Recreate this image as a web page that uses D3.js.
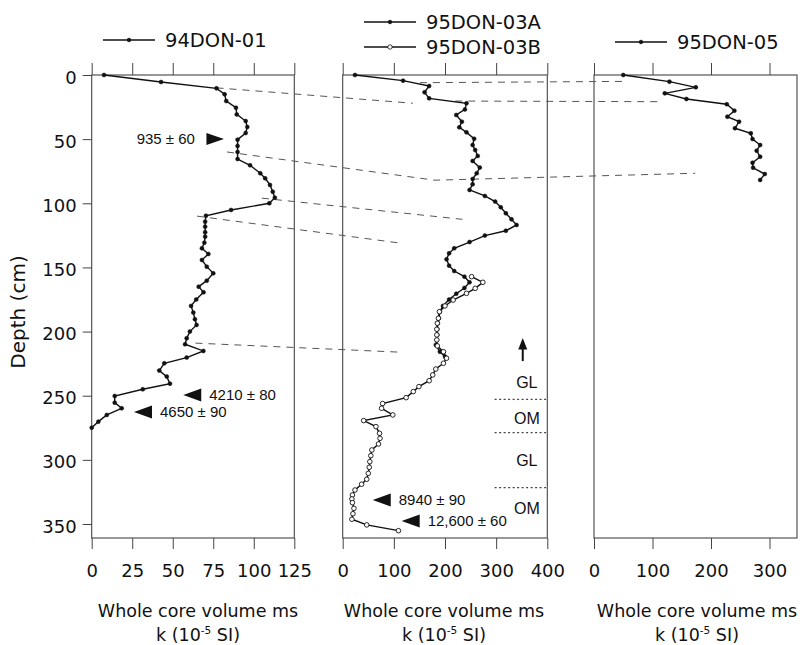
<!DOCTYPE html>
<html>
<head>
<meta charset="utf-8">
<title>Whole core magnetic susceptibility vs depth</title>
<script src="https://cdn.jsdelivr.net/npm/d3@7"></script>
<style>
  body { margin: 0; background: #fff; }
  svg text { font-family: "DejaVu Sans", sans-serif; fill: #111; }
  .note { font-family: "Liberation Sans", Arial, sans-serif; }
  .axis path { display: none; }
  .axis line { stroke: #444; stroke-width: 1; }
</style>
</head>
<body>
<script>
// [depth cm, k 10^-5 SI]
var don01 = [[0,7.6],[5.5,42.8],[10.4,77],[15,82],[20.3,83],[25.5,89],[30.7,89.5],[35.9,95],[40.5,96],[45.2,95],
  [50.4,90],[55.3,90],[60,90],[65.5,90],[70.4,97.7],[76.6,104],[80.5,107],[85.7,110],[91,111.7],[95.6,113],
  [100,109.6],[105.2,86],[109.7,70.5],[114.3,70],[118.2,70],[122.6,70],[126,70],[130.7,69.5],[135.1,68],[139.5,72],
  [144.2,68],[149.4,71],[154.6,75],[160.3,71],[165,66],[169.4,69],[175,64.5],[180,61.3],[185.2,62.7],[190.4,63.7],
  [194.8,64.7],[200,60.6],[205.2,58.6],[209.9,57.6],[215.1,68.9],[220.3,58.6],[224.7,44.8],[230.4,41.7],[235.1,46.3],
  [240.6,48.3],[245,31.5],[250.2,14.2],[255.4,14.2],[259.8,18.5],[265,9.3],[270.2,4.1],[274.9,0]];
var don03A = [[0,24],[4.4,118],[8.6,169],[13.5,160],[18.2,169],[22.1,242],[26.8,239],[31.2,222],[36.4,233],[40.8,228],
  [44.7,242],[49.7,257],[54.6,254],[58.5,259],[63.1,264],[67,254],[72.2,268],[76.6,262],[81.1,254],[85.2,254],
  [89.6,248],[94.3,278],[98.7,298],[103.1,309],[107.8,319],[112.5,330],[116.9,340],[121.4,319],[125.2,278],[130.2,248],
  [135.1,218],[139,208],[143.7,203],[148.6,208],[152.8,218],[157.2,238],[161.6,248],[166,238],[170.5,222],[175,208],
  [180,196],[184.5,190],[189.6,188],[193.5,186],[198.2,185],[202.6,185],[206.5,184],[210.4,182],[215.7,190],[219.6,200]];
var don03B = [[157.2,252],[161.6,274],[166.3,259],[170.2,242],[175.4,216],[180,200],[184.5,189],[189.6,187],[193.5,185],
  [198.2,184],[202.6,184],[206.5,184],[211.2,185],[215.7,197],[220.8,203],[224.7,197],[229.2,182],[233.8,176],[238.3,169],
  [242.9,149],[246.8,138],[251.5,124],[256.1,78],[259.8,76],[265,98],[269.4,41],[274.1,65],[279.3,72],[283.2,73],
  [287.6,70],[292.3,57],[296.7,55],[301.4,53],[305.8,52],[310.5,50],[315.1,47],[319,37],[323.5,24],[327.4,19],
  [330.5,18],[333.4,19],[337.8,22],[342,20],[346.3,18],[350.7,47],[355.2,109]];
var don05 = [[0,50],[5.2,129],[9.6,174],[14.3,121],[18.7,158],[22.8,227],[27.8,240],[32.5,228],[36.4,248],[41.5,241],
  [45.4,268],[49.9,271],[54.6,284],[59,278],[63.7,284],[68.4,271],[72.3,272],[77.2,292],[81.8,284]];

var depthTicks = [0,50,100,150,200,250,300,350];
var kTicks = [[0,25,50,75,100,125],[0,100,200,300,400],[0,100,200,300]];
var kMax = [125,400,347];

// correlation tie lines: [panel, k, depth]
var ties = [
  [[0,77,10],[1,137,22]],
  [[1,151,6],[2,48,5]],
  [[1,220,20.3],[2,108,20.8]],
  [[0,83.5,60],[1,180,82],[2,173,76.6]],
  [[0,105,96],[1,234,112.5]],
  [[0,65,110],[1,112,131]],
  [[0,64,209],[1,109,216]]
];

// radiocarbon dates: arrow tip position
var dates = [
  {p:0, k:81.6, depth:49.9, label:"935 ± 60", side:"left"},
  {p:0, k:56.5, depth:249.4, label:"4210 ± 80", side:"right"},
  {p:0, k:26.1, depth:262.7, label:"4650 ± 90", side:"right"},
  {p:1, k:58.7, depth:331.3, label:"8940 ± 90", side:"right"},
  {p:1, k:115.3, depth:347.6, label:"12,600 ± 60", side:"right"}
];

var unitLabels = ["GL","OM","GL","OM"];
var unitDepths = [239.8,267.6,300.6,337.7];
var unitBounds = [252.8,278.8,321.7];

var width = 803, height = 645,
    plotTop = 75, plotBottom = 538,
    lefts = [91.7,342.7,594], rights = [294.3,547.3,797],
    titleX = [198,444,697];

var svg = d3.select("body").append("svg")
    .attr("width", width).attr("height", height);

var y = d3.scaleLinear().domain([0,350]).range([plotTop,524]);
var xs = kMax.map(function(m,i){
  return d3.scaleLinear().domain([0,m]).range([lefts[i], rights[i]]);
});

// frames and axes
xs.forEach(function(x,i){
  svg.append("rect")
    .attr("x", lefts[i]).attr("y", plotTop)
    .attr("width", rights[i]-lefts[i]).attr("height", plotBottom-plotTop)
    .attr("fill","none").attr("stroke","#444").attr("stroke-width",1.1);

  svg.append("g").attr("class","axis")
    .attr("transform","translate(0,"+plotTop+")")
    .call(d3.axisTop(x).tickValues(kTicks[i]).tickSize(12).tickFormat(""));

  var gb = svg.append("g").attr("class","axis")
    .attr("transform","translate(0,"+plotBottom+")")
    .call(d3.axisBottom(x).tickValues(kTicks[i]).tickSize(11).tickPadding(15));
  gb.attr("font-family",null).attr("font-size",null);
  gb.selectAll("text").style("font-size","18px");

  svg.append("text").attr("x", titleX[i]).attr("y", 617)
    .attr("text-anchor","middle").style("font-size","17.5px")
    .text("Whole core volume ms");
  var t2 = svg.append("text").attr("x", titleX[i]).attr("y", 641)
    .attr("text-anchor","middle").style("font-size","17.5px");
  t2.append("tspan").text("k (10");
  t2.append("tspan").attr("dy",-7).style("font-size","10.5px").text("-5");
  t2.append("tspan").attr("dy",7).text(" SI)");
});

var gy = svg.append("g").attr("class","axis")
  .attr("transform","translate("+lefts[0]+",0)")
  .call(d3.axisLeft(y).tickValues(depthTicks).tickSize(9).tickPadding(6));
gy.attr("font-family",null).attr("font-size",null);
gy.selectAll("text").style("font-size","18px").attr("dy","0.45em");

svg.append("text")
  .attr("transform","translate(25,312) rotate(-90)")
  .attr("text-anchor","middle").style("font-size","20px")
  .text("Depth (cm)");

// tie lines
var tieLine = d3.line()
  .x(function(d){ return xs[d[0]](d[1]); })
  .y(function(d){ return y(d[2]); });
svg.selectAll("path.tie").data(ties).enter().append("path")
  .attr("class","tie").attr("d", tieLine)
  .attr("fill","none").attr("stroke","#555").attr("stroke-width",1)
  .attr("stroke-dasharray","7,6");

// series
function drawSeries(data, x, open){
  var line = d3.line().x(function(d){ return x(d[1]); }).y(function(d){ return y(d[0]); });
  svg.append("path").datum(data).attr("d", line)
    .attr("fill","none").attr("stroke","#111").attr("stroke-width",1.4);
  svg.append("g").selectAll("circle").data(data).enter().append("circle")
    .attr("cx", function(d){ return x(d[1]); })
    .attr("cy", function(d){ return y(d[0]); })
    .attr("r", open ? 2.3 : 2)
    .attr("fill", open ? "#fff" : "#111")
    .attr("stroke","#111").attr("stroke-width", open ? 0.9 : 0.5);
}
drawSeries(don01, xs[0], false);
drawSeries(don03A, xs[1], false);
drawSeries(don03B, xs[1], true);
drawSeries(don05, xs[2], false);

// legends
var legends = [
  {x1:103, x2:155, y:40, label:"94DON-01", open:false},
  {x1:364, x2:416, y:22, label:"95DON-03A", open:false},
  {x1:364, x2:416, y:47, label:"95DON-03B", open:true},
  {x1:615, x2:667, y:42, label:"95DON-05", open:false}
];
legends.forEach(function(l){
  svg.append("line").attr("x1",l.x1).attr("x2",l.x2).attr("y1",l.y).attr("y2",l.y)
    .attr("stroke","#111").attr("stroke-width",1.3);
  svg.append("circle").attr("cx",(l.x1+l.x2)/2).attr("cy",l.y).attr("r",l.open?2.2:1.8)
    .attr("fill",l.open?"#fff":"#111").attr("stroke","#111").attr("stroke-width",0.8);
  svg.append("text").attr("x",l.x2+10).attr("y",l.y+7).style("font-size","19.5px").text(l.label);
});

// date markers
dates.forEach(function(d){
  var tx = xs[d.p](d.k), ty = y(d.depth);
  var pts, textX, anchor;
  if (d.side === "left") {
    pts = [[tx,ty],[tx-17.5,ty-6],[tx-17.5,ty+6]];
    textX = tx-29; anchor = "end";
  } else {
    pts = [[tx,ty],[tx+18,ty-6.5],[tx+18,ty+6.5]];
    textX = tx+26; anchor = "start";
  }
  svg.append("path").attr("d","M"+pts.join("L")+"Z").attr("fill","#111");
  svg.append("text").attr("class","note").attr("x",textX).attr("y",ty).attr("dy","0.36em")
    .attr("text-anchor",anchor).style("font-size","15px").text(d.label);
});

// lithology units in 95DON-03
var x1 = xs[1];
svg.selectAll("line.unit").data(unitBounds).enter().append("line")
  .attr("class","unit")
  .attr("x1", x1(297)).attr("x2", x1(400))
  .attr("y1", function(d){ return y(d); }).attr("y2", function(d){ return y(d); })
  .attr("stroke","#444").attr("stroke-width",1.2).attr("stroke-dasharray","2,2.5");
svg.selectAll("text.unit").data(unitLabels).enter().append("text")
  .attr("class","note unit")
  .attr("x", x1(360)).attr("y", function(d,i){ return y(unitDepths[i]); })
  .attr("dy","0.36em").attr("text-anchor","middle").style("font-size","16px")
  .text(function(d){ return d; });
// up arrow
var ax = x1(352);
svg.append("line").attr("x1",ax).attr("x2",ax).attr("y1",y(223)).attr("y2",y(213))
  .attr("stroke","#111").attr("stroke-width",2);
svg.append("path")
  .attr("d","M"+ax+","+y(205)+"L"+(ax-4.5)+","+y(214)+"L"+(ax+4.5)+","+y(214)+"Z")
  .attr("fill","#111");
</script>
</body>
</html>
